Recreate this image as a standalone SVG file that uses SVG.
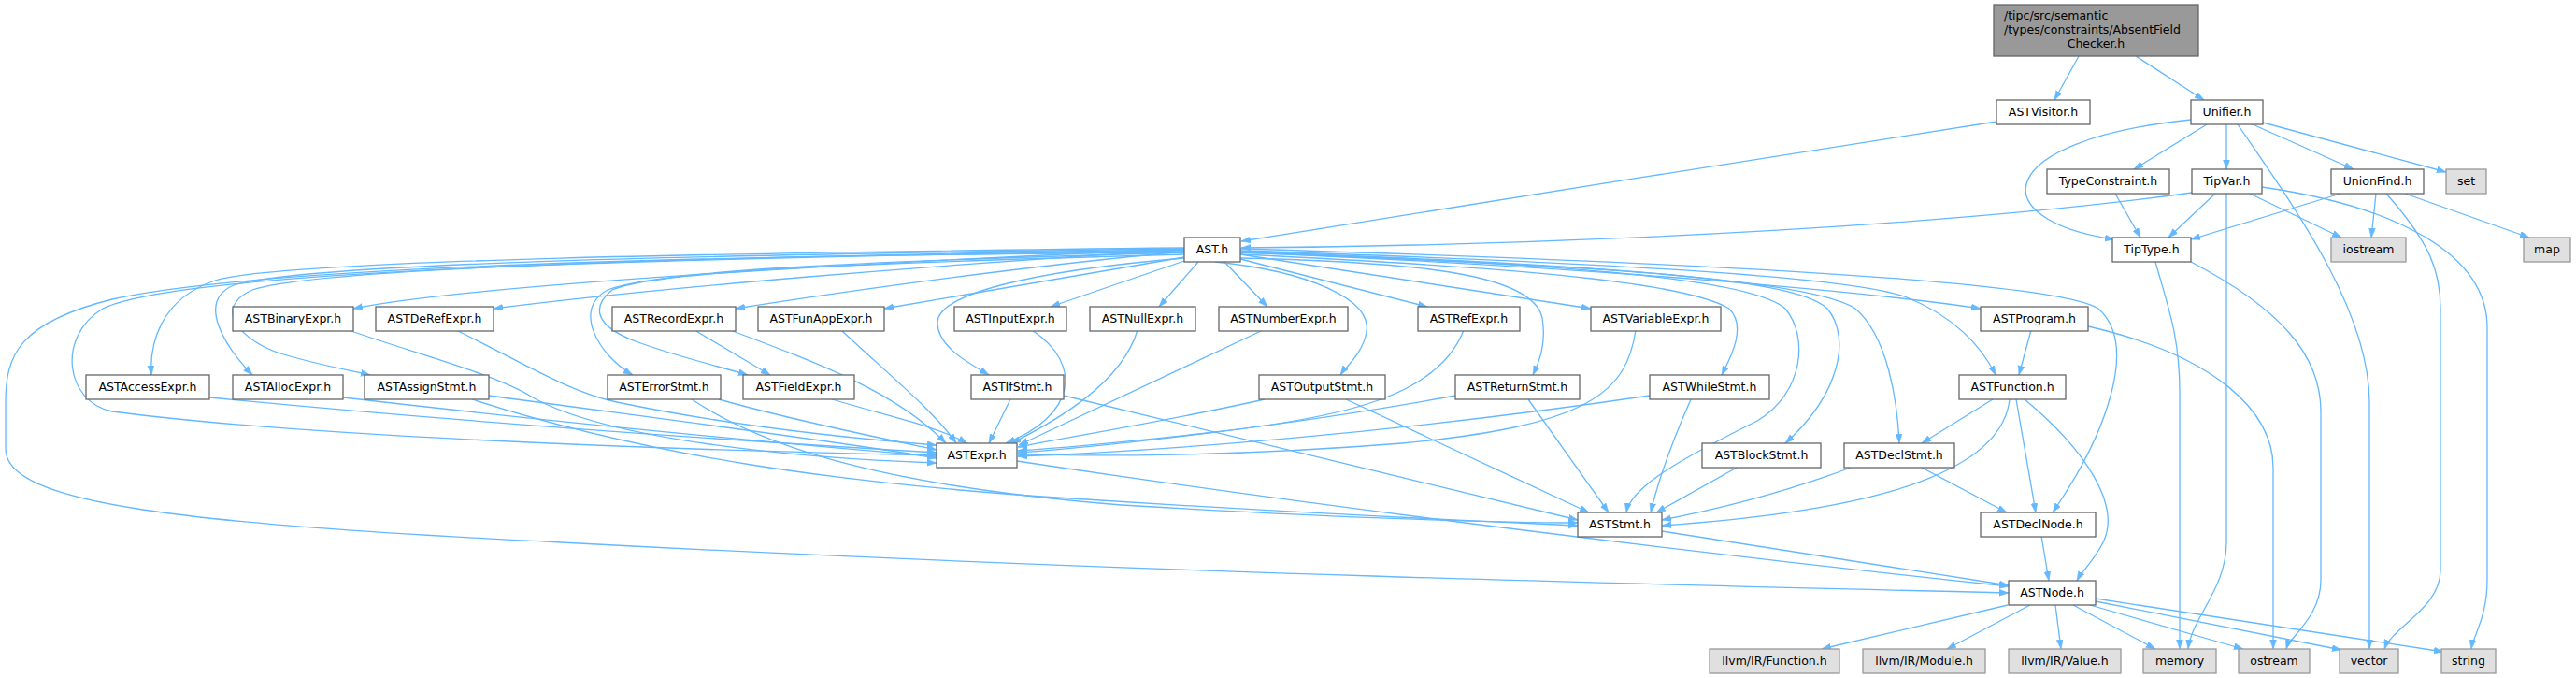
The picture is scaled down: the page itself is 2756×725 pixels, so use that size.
<svg xmlns="http://www.w3.org/2000/svg" width="2756" height="725" viewBox="0 0 2756 725">
<defs>
<style>
.n rect{fill:#ffffff;stroke:#666666;stroke-width:1.3}
.g rect{fill:#e0e0e0;stroke:#999999;stroke-width:1.3}
.r rect{fill:#999999;stroke:#666666;stroke-width:1.3}
text{font-family:"DejaVu Sans","Liberation Sans",sans-serif;font-size:12.5px;fill:#000000}
.c{text-anchor:middle}
#edges path{fill:none;stroke:#63b8ff;stroke-width:1.3;marker-end:url(#a)}
</style>
<marker id="a" markerUnits="userSpaceOnUse" markerWidth="11" markerHeight="8" refX="10" refY="3.5" orient="auto">
<path d="M0,0 L10,3.5 L0,7 z" fill="#63b8ff" stroke="#63b8ff" stroke-width="0.5"/>
</marker>
</defs>
<rect x="0" y="0" width="2756" height="725" fill="#ffffff"/>
<g id="edges">
<path d="M2224,60 L2198,107"/>
<path d="M2285,60 L2358,107"/>
<path d="M2136,130 C1900,167 1550,222 1328,258"/>
<path d="M2344,128 C2130,150 2120,235 2262,256"/>
<path d="M2361,133 L2283,181"/>
<path d="M2382,133 L2382,181"/>
<path d="M2410,133 L2518,181"/>
<path d="M2421,131 L2617,184"/>
<path d="M2394,133 C2450,215 2535,330 2535,430 L2535,694"/>
<path d="M2263,207 L2290,254"/>
<path d="M2370,207 L2320,254"/>
<path d="M2407,207 L2505,254"/>
<path d="M2382,207 L2382,580 C2382,630 2345,660 2341,694"/>
<path d="M2420,200 C2560,220 2661,270 2661,350 L2661,620 C2661,660 2646,680 2644,694"/>
<path d="M2345,206 C2100,240 1700,262 1328,265"/>
<path d="M2504,207 L2344,256"/>
<path d="M2542,207 L2537,254"/>
<path d="M2553,207 C2600,260 2611,290 2611,330 L2611,610 C2611,650 2560,670 2551,694"/>
<path d="M2573,207 L2706,254"/>
<path d="M2306,280 C2320,330 2332,360 2332,420 L2332,694"/>
<path d="M2344,280 C2440,330 2483,380 2483,440 L2483,620 C2483,660 2450,680 2446,694"/>
<path d="M2234,349 C2370,380 2432,440 2432,500 L2432,694"/>
<path d="M2173,353 L2160,401"/>
<path d="M1267,266 C900,282 500,305 378,330"/>
<path d="M1267,267 C1000,283 700,308 528,330"/>
<path d="M1267,269 C1100,284 900,312 787,330"/>
<path d="M1267,275 L946,330"/>
<path d="M1267,279 L1124,328"/>
<path d="M1282,280 L1240,328"/>
<path d="M1310,280 L1356,328"/>
<path d="M1327,277 L1527,328"/>
<path d="M1327,272 L1702,330"/>
<path d="M1327,270 C1700,285 2000,312 2119,330"/>
<path d="M1267,265 C800,270 300,278 230,300 C170,320 160,370 162,401"/>
<path d="M1267,266 C700,273 320,283 250,305 C210,322 240,370 270,401"/>
<path d="M1267,267 C700,275 330,288 270,310 C225,330 260,365 300,378 C340,390 370,395 396,401"/>
<path d="M1267,270 C900,280 700,290 650,310 C612,330 640,380 677,401"/>
<path d="M1267,272 C900,282 700,290 655,310 C630,330 640,350 680,365 C720,380 770,392 800,401"/>
<path d="M1267,276 C1100,290 1003,315 1003,345 C1003,372 1040,390 1058,401"/>
<path d="M1300,280 C1400,290 1468,320 1462,355 C1458,378 1440,392 1434,401"/>
<path d="M1327,276 C1500,280 1640,290 1650,340 C1655,370 1645,390 1640,401"/>
<path d="M1327,272 C1600,285 1800,300 1850,330 C1870,350 1850,385 1842,401"/>
<path d="M1327,268 C1700,280 1980,295 2040,318 C2090,338 2120,370 2135,401"/>
<path d="M1327,270 C1700,284 1920,295 1955,330 C1980,360 1970,420 1910,474"/>
<path d="M1327,269 C1700,282 1940,300 1985,330 C2020,360 2030,430 2032,474"/>
<path d="M1327,266 C1800,280 2200,300 2245,330 C2290,370 2250,470 2196,548"/>
<path d="M1327,269 C1650,282 1870,295 1910,330 C1935,360 1930,420 1880,450 C1800,490 1745,520 1740,548"/>
<path d="M1267,268 C800,275 200,285 110,330 C60,360 70,430 120,440 C350,470 800,483 1002,487"/>
<path d="M1267,270 C900,272 300,280 120,320 C20,345 6,380 6,430 L6,480 C6,540 200,560 600,580 C1200,612 1800,626 2149,634"/>
<path d="M373,353 C450,380 530,400 570,425 C650,470 850,490 1002,495"/>
<path d="M488,353 C560,388 610,420 660,430 C780,455 900,468 1002,476"/>
<path d="M743,353 L824,401"/>
<path d="M781,353 C880,390 960,420 1012,474"/>
<path d="M900,353 C950,400 1000,440 1023,474"/>
<path d="M1104,353 C1160,390 1150,445 1076,474"/>
<path d="M1217,353 C1200,410 1130,450 1082,474"/>
<path d="M1351,353 L1090,476"/>
<path d="M1566,353 C1540,420 1450,445 1300,462 C1200,473 1120,480 1089,482"/>
<path d="M1750,353 C1740,420 1700,455 1500,474 C1300,490 1150,487 1089,486"/>
<path d="M224,425 C500,452 800,472 1002,484"/>
<path d="M367,425 C600,452 850,476 1002,488"/>
<path d="M523,423 C700,447 900,472 1002,490"/>
<path d="M505,427 C700,490 900,515 1100,530 C1400,550 1600,558 1688,562"/>
<path d="M769,427 C850,450 950,470 1002,481"/>
<path d="M740,427 C820,480 950,520 1200,540 C1450,555 1620,559 1688,559"/>
<path d="M890,427 C950,445 1000,455 1035,474"/>
<path d="M1081,427 L1058,474"/>
<path d="M1138,423 L1688,556"/>
<path d="M1353,427 C1250,450 1150,466 1089,478"/>
<path d="M1440,427 L1700,548"/>
<path d="M1557,423 C1400,452 1200,476 1089,484"/>
<path d="M1635,427 L1721,548"/>
<path d="M1765,423 C1500,462 1250,482 1089,488"/>
<path d="M1809,427 C1790,470 1775,510 1766,548"/>
<path d="M2132,427 L2056,474"/>
<path d="M2150,427 C2140,520 1950,550 1778,562"/>
<path d="M2157,427 L2178,548"/>
<path d="M2166,427 C2230,480 2270,540 2250,580 C2240,600 2228,610 2222,621"/>
<path d="M1858,500 L1772,548"/>
<path d="M1980,500 C1900,530 1830,546 1778,556"/>
<path d="M2056,500 L2147,548"/>
<path d="M1088,493 C1400,540 1800,590 2149,627"/>
<path d="M1778,568 L2149,626"/>
<path d="M2184,573 L2192,621"/>
<path d="M2148,647 L1949,694"/>
<path d="M2172,647 L2083,694"/>
<path d="M2199,647 L2205,694"/>
<path d="M2218,647 L2306,694"/>
<path d="M2236,647 L2400,694"/>
<path d="M2242,643 L2505,695"/>
<path d="M2242,640 L2614,697"/>
</g>
<g id="root" class="r"><rect x="2133" y="5" width="219" height="55"/><text x="2144" y="21">/tipc/src/semantic</text><text x="2144" y="36">/types/constraints/AbsentField</text><text class="c" x="2242.5" y="51">Checker.h</text></g>
<g id="ASTVisitor" class="n"><rect x="2136" y="107" width="100" height="26"/><text class="c" x="2186" y="124">ASTVisitor.h</text></g>
<g id="Unifier" class="n"><rect x="2344" y="107" width="77" height="26"/><text class="c" x="2382.5" y="124">Unifier.h</text></g>
<g id="TypeConstraint" class="n"><rect x="2190" y="181" width="131" height="26"/><text class="c" x="2255.5" y="198">TypeConstraint.h</text></g>
<g id="TipVar" class="n"><rect x="2345" y="181" width="75" height="26"/><text class="c" x="2382.5" y="198">TipVar.h</text></g>
<g id="UnionFind" class="n"><rect x="2494" y="181" width="99" height="26"/><text class="c" x="2543.5" y="198">UnionFind.h</text></g>
<g id="set" class="g"><rect x="2617" y="181" width="43" height="26"/><text class="c" x="2638.5" y="198">set</text></g>
<g id="AST" class="n"><rect x="1267" y="254" width="60" height="26"/><text class="c" x="1297" y="271">AST.h</text></g>
<g id="TipType" class="n"><rect x="2260" y="254" width="84" height="26"/><text class="c" x="2302" y="271">TipType.h</text></g>
<g id="iostream" class="g"><rect x="2494" y="254" width="80" height="26"/><text class="c" x="2534" y="271">iostream</text></g>
<g id="map" class="g"><rect x="2700" y="254" width="50" height="26"/><text class="c" x="2725" y="271">map</text></g>
<g id="ASTBinaryExpr" class="n"><rect x="249" y="328" width="129" height="26"/><text class="c" x="313.5" y="345">ASTBinaryExpr.h</text></g>
<g id="ASTDeRefExpr" class="n"><rect x="402" y="328" width="126" height="26"/><text class="c" x="465" y="345">ASTDeRefExpr.h</text></g>
<g id="ASTRecordExpr" class="n"><rect x="655" y="328" width="132" height="26"/><text class="c" x="721" y="345">ASTRecordExpr.h</text></g>
<g id="ASTFunAppExpr" class="n"><rect x="811" y="328" width="135" height="26"/><text class="c" x="878.5" y="345">ASTFunAppExpr.h</text></g>
<g id="ASTInputExpr" class="n"><rect x="1021" y="328" width="120" height="26"/><text class="c" x="1081" y="345">ASTInputExpr.h</text></g>
<g id="ASTNullExpr" class="n"><rect x="1166" y="328" width="113" height="26"/><text class="c" x="1222.5" y="345">ASTNullExpr.h</text></g>
<g id="ASTNumberExpr" class="n"><rect x="1304" y="328" width="138" height="26"/><text class="c" x="1373" y="345">ASTNumberExpr.h</text></g>
<g id="ASTRefExpr" class="n"><rect x="1517" y="328" width="109" height="26"/><text class="c" x="1571.5" y="345">ASTRefExpr.h</text></g>
<g id="ASTVariableExpr" class="n"><rect x="1702" y="328" width="139" height="26"/><text class="c" x="1771.5" y="345">ASTVariableExpr.h</text></g>
<g id="ASTProgram" class="n"><rect x="2119" y="328" width="115" height="26"/><text class="c" x="2176.5" y="345">ASTProgram.h</text></g>
<g id="ASTAccessExpr" class="n"><rect x="92" y="401" width="132" height="26"/><text class="c" x="158" y="418">ASTAccessExpr.h</text></g>
<g id="ASTAllocExpr" class="n"><rect x="249" y="401" width="118" height="26"/><text class="c" x="308" y="418">ASTAllocExpr.h</text></g>
<g id="ASTAssignStmt" class="n"><rect x="390" y="401" width="133" height="26"/><text class="c" x="456.5" y="418">ASTAssignStmt.h</text></g>
<g id="ASTErrorStmt" class="n"><rect x="650" y="401" width="121" height="26"/><text class="c" x="710.5" y="418">ASTErrorStmt.h</text></g>
<g id="ASTFieldExpr" class="n"><rect x="795" y="401" width="119" height="26"/><text class="c" x="854.5" y="418">ASTFieldExpr.h</text></g>
<g id="ASTIfStmt" class="n"><rect x="1039" y="401" width="99" height="26"/><text class="c" x="1088.5" y="418">ASTIfStmt.h</text></g>
<g id="ASTOutputStmt" class="n"><rect x="1347" y="401" width="135" height="26"/><text class="c" x="1414.5" y="418">ASTOutputStmt.h</text></g>
<g id="ASTReturnStmt" class="n"><rect x="1557" y="401" width="133" height="26"/><text class="c" x="1623.5" y="418">ASTReturnStmt.h</text></g>
<g id="ASTWhileStmt" class="n"><rect x="1765" y="401" width="128" height="26"/><text class="c" x="1829" y="418">ASTWhileStmt.h</text></g>
<g id="ASTFunction" class="n"><rect x="2096" y="401" width="114" height="26"/><text class="c" x="2153" y="418">ASTFunction.h</text></g>
<g id="ASTExpr" class="n"><rect x="1002" y="474" width="86" height="26"/><text class="c" x="1045" y="491">ASTExpr.h</text></g>
<g id="ASTBlockStmt" class="n"><rect x="1821" y="474" width="127" height="26"/><text class="c" x="1884.5" y="491">ASTBlockStmt.h</text></g>
<g id="ASTDeclStmt" class="n"><rect x="1973" y="474" width="118" height="26"/><text class="c" x="2032" y="491">ASTDeclStmt.h</text></g>
<g id="ASTStmt" class="n"><rect x="1688" y="548" width="90" height="26"/><text class="c" x="1733" y="565">ASTStmt.h</text></g>
<g id="ASTDeclNode" class="n"><rect x="2119" y="548" width="123" height="26"/><text class="c" x="2180.5" y="565">ASTDeclNode.h</text></g>
<g id="ASTNode" class="n"><rect x="2149" y="621" width="93" height="26"/><text class="c" x="2195.5" y="638">ASTNode.h</text></g>
<g id="llvmFunction" class="g"><rect x="1829" y="694" width="139" height="26"/><text class="c" x="1898.5" y="711">llvm/IR/Function.h</text></g>
<g id="llvmModule" class="g"><rect x="1993" y="694" width="131" height="26"/><text class="c" x="2058.5" y="711">llvm/IR/Module.h</text></g>
<g id="llvmValue" class="g"><rect x="2149" y="694" width="120" height="26"/><text class="c" x="2209" y="711">llvm/IR/Value.h</text></g>
<g id="memory" class="g"><rect x="2293" y="694" width="78" height="26"/><text class="c" x="2332" y="711">memory</text></g>
<g id="ostream" class="g"><rect x="2395" y="694" width="76" height="26"/><text class="c" x="2433" y="711">ostream</text></g>
<g id="vector" class="g"><rect x="2503" y="694" width="63" height="26"/><text class="c" x="2534.5" y="711">vector</text></g>
<g id="string" class="g"><rect x="2612" y="694" width="58" height="26"/><text class="c" x="2641" y="711">string</text></g>
</svg>
